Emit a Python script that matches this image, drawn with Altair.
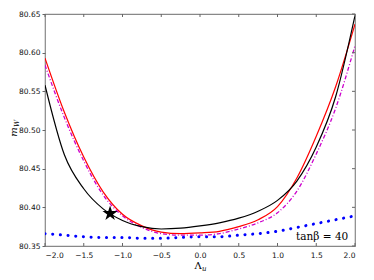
import altair as alt
import pandas as pd

lam = [-2.0, -1.75, -1.5, -1.25, -1.0, -0.75, -0.5, -0.25, 0.0,
       0.25, 0.5, 0.75, 1.0, 1.25, 1.5, 1.75, 2.0]
black = [80.558, 80.468, 80.424, 80.398, 80.383, 80.375, 80.372, 80.373, 80.376,
         80.380, 80.386, 80.395, 80.409, 80.434, 80.478, 80.543, 80.648]
red = [80.593, 80.523, 80.465, 80.420, 80.391, 80.376, 80.368, 80.366, 80.367,
       80.369, 80.375, 80.384, 80.401, 80.438, 80.492, 80.556, 80.637]
magenta = [80.584, 80.516, 80.460, 80.416, 80.389, 80.374, 80.366, 80.364, 80.364,
           80.366, 80.372, 80.380, 80.393, 80.421, 80.469, 80.528, 80.609]
blue = [80.366, 80.364, 80.362, 80.361, 80.361, 80.360, 80.360, 80.361, 80.362,
        80.362, 80.364, 80.366, 80.369, 80.374, 80.379, 80.384, 80.389]

star_x = [-1.16]
star_y = [80.392]

x_ticks = [-2.0, -1.5, -1.0, -0.5, 0.0, 0.5, 1.0, 1.5, 2.0]
y_ticks = [80.35, 80.40, 80.45, 80.50, 80.55, 80.60, 80.65]

W, H = 310, 232

xs = alt.Scale(domain=[-2, 2], nice=False, zero=False)
ys = alt.Scale(domain=[80.35, 80.65], nice=False, zero=False)

xax = alt.Axis(values=x_ticks, format=".1f", orient="bottom", tickSize=0, domain=False,
               grid=False, labelFont="DejaVu Sans", labelFontSize=7.5, labelColor="#111",
               labelPadding=5, labelOverlap=False, title=None)
yax = alt.Axis(values=y_ticks, format=".2f", orient="left", tickSize=3, tickColor="#666",
               domain=False, grid=False, labelFont="DejaVu Sans", labelFontSize=7.5,
               labelColor="#111", labelPadding=2, labelOverlap=False, title=None)


def X(f):
    return alt.X(f, scale=xs, axis=xax)


def Y(f):
    return alt.Y(f, scale=ys, axis=yax)


STAR = ("M0,-1L0.2245,-0.309L0.9511,-0.309L0.3633,0.118L0.5878,0.809L0,0.382"
        "L-0.5878,0.809L-0.3633,0.118L-0.9511,-0.309L-0.2245,-0.309Z")


def line(vals, color, width, dash=None, cap="butt"):
    df = pd.DataFrame({"x": lam, "y": vals})
    kw = dict(color=color, strokeWidth=width, interpolate="monotone", strokeCap=cap, clip=True)
    if dash:
        kw["strokeDash"] = dash
    return alt.Chart(df).mark_line(**kw).encode(x=X("x:Q"), y=Y("y:Q"))


l_blue = line(blue, "#0000ff", 3, [0.1, 7.6], "round")
l_mag = line(magenta, "#cc00cc", 1.3, [4, 2, 1, 2])
l_red = line(red, "#ff0000", 1.2)
l_black = line(black, "#000000", 1.2)

star = alt.Chart(pd.DataFrame({"x": star_x, "y": star_y})).mark_point(
    shape=STAR, filled=True, color="black", size=260, opacity=1
).encode(x=X("x:Q"), y=Y("y:Q"))

ann = alt.Chart(pd.DataFrame({"x": [1.24], "y": [80.358], "t": ["tanβ = 40"]})).mark_text(
    align="left", baseline="alphabetic", font="DejaVu Serif", fontSize=10.5, color="black"
).encode(x=X("x:Q"), y=Y("y:Q"), text="t:N")

xt = pd.DataFrame({"v": x_ticks})
yt = pd.DataFrame({"v": y_ticks})
tick_col = "#666666"
bot_ticks = alt.Chart(xt).mark_rule(color=tick_col, strokeWidth=1).encode(
    x=X("v:Q"), y=alt.value(H), y2=alt.value(H - 3))
top_ticks = alt.Chart(xt).mark_rule(color=tick_col, strokeWidth=1).encode(
    x=X("v:Q"), y=alt.value(0), y2=alt.value(3))
right_ticks = alt.Chart(yt).mark_rule(color=tick_col, strokeWidth=1).encode(
    y=Y("v:Q"), x=alt.value(W), x2=alt.value(W - 3))

lab = pd.DataFrame({"a": [0]})
xtitle1 = alt.Chart(lab).mark_text(text="Λ", font="DejaVu Serif", fontSize=10,
                                   align="center", baseline="alphabetic", color="black").encode(
    x=alt.value(153), y=alt.value(H + 23))
xtitle2 = alt.Chart(lab).mark_text(text="u", font="DejaVu Serif", fontSize=7, fontStyle="italic",
                                   align="left", baseline="alphabetic", color="black").encode(
    x=alt.value(157), y=alt.value(H + 25))
ytitle1 = alt.Chart(lab).mark_text(text="m", font="DejaVu Serif", fontSize=10, fontStyle="italic",
                                   angle=270, align="center", baseline="alphabetic", color="black").encode(
    x=alt.value(-28), y=alt.value(118))
ytitle2 = alt.Chart(lab).mark_text(text="W", font="DejaVu Serif", fontSize=7, fontStyle="italic",
                                   angle=270, align="left", baseline="alphabetic", color="black").encode(
    x=alt.value(-26), y=alt.value(113))

chart = alt.layer(
    l_blue, l_mag, l_red, l_black, star, ann,
    bot_ticks, top_ticks, right_ticks,
    xtitle1, xtitle2, ytitle1, ytitle2,
).properties(
    width=W, height=H,
    autosize=alt.AutoSizeParams(type="none"),
    padding={"left": 37, "top": 6, "right": 11, "bottom": 26},
    background="white",
).configure_view(
    stroke="#888888", strokeWidth=1.2
)

chart.save("out.html", embed_options={"renderer": "svg", "actions": False})
